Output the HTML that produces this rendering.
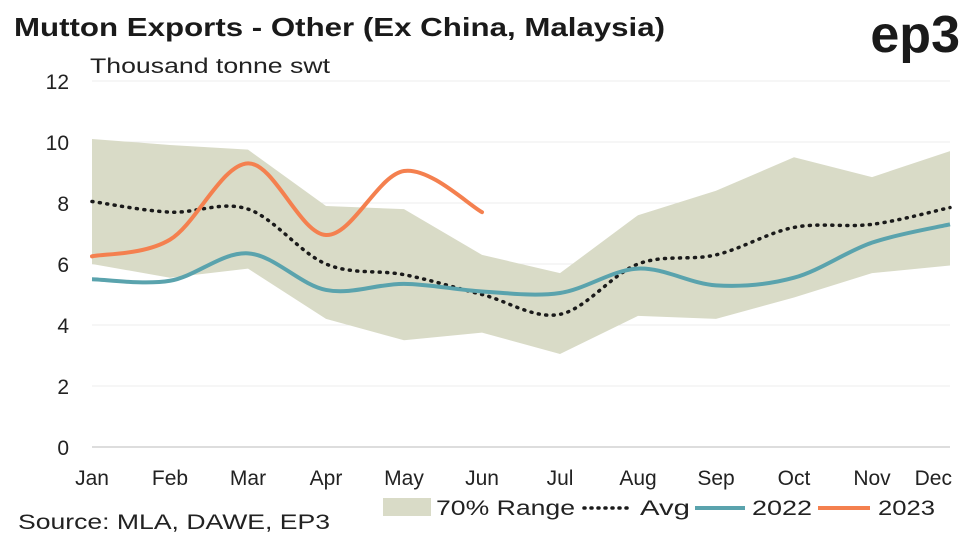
<!DOCTYPE html>
<html><head><meta charset="utf-8"><style>
body{margin:0;background:#fff;font-family:"Liberation Sans",sans-serif}
</style></head><body>
<svg width="962" height="541" id="c" xmlns="http://www.w3.org/2000/svg" font-family="Liberation Sans, sans-serif">
<text x="14" y="36" font-size="26" font-weight="bold" fill="#1a1a1a" textLength="651" lengthAdjust="spacingAndGlyphs">Mutton Exports - Other (Ex China, Malaysia)</text>
<text x="960" y="52" font-size="52" font-weight="bold" fill="#1a1a1a" text-anchor="end">ep3</text>
<text x="90" y="73" font-size="21" fill="#222" textLength="240" lengthAdjust="spacingAndGlyphs">Thousand tonne swt</text>
<text x="18" y="529" font-size="21" fill="#222" textLength="312" lengthAdjust="spacingAndGlyphs">Source: MLA, DAWE, EP3</text>
<g id="grid"></g><g id="plot"></g><g id="axes"></g>
<g>
<rect x="383" y="498" width="48" height="18" fill="#d9dbc7"/>
<text x="436" y="515" font-size="21" fill="#222" textLength="139" lengthAdjust="spacingAndGlyphs">70% Range</text>
<line x1="584" y1="508" x2="630" y2="508" stroke="#1a1a1a" stroke-width="3.5" stroke-dasharray="1 6" stroke-linecap="round"/>
<text x="640" y="515" font-size="21" fill="#222" textLength="50" lengthAdjust="spacingAndGlyphs">Avg</text>
<line x1="695" y1="508" x2="745" y2="508" stroke="#5aa3ad" stroke-width="4"/>
<text x="752" y="515" font-size="21" fill="#222" textLength="60" lengthAdjust="spacingAndGlyphs">2022</text>
<line x1="818" y1="508" x2="870" y2="508" stroke="#f4804f" stroke-width="4"/>
<text x="878" y="515" font-size="21" fill="#222" textLength="57" lengthAdjust="spacingAndGlyphs">2023</text>
</g>
</svg>
<script>
const months=["Jan","Feb","Mar","Apr","May","Jun","Jul","Aug","Sep","Oct","Nov","Dec"];
const yTicks=[0,2,4,6,8,10,12];
const rangeHigh=[10.1,9.9,9.75,7.9,7.8,6.3,5.7,7.6,8.4,9.5,8.85,9.7];
const rangeLow=[6.0,5.55,5.85,4.2,3.5,3.75,3.05,4.3,4.2,4.9,5.7,5.95];
const avg=[8.05,7.7,7.8,6.0,5.65,5.0,4.35,6.0,6.3,7.2,7.3,7.85];
const s2022=[5.5,5.45,6.35,5.15,5.35,5.1,5.05,5.85,5.3,5.55,6.7,7.3];
const s2023=[6.25,6.8,9.3,6.95,9.05,7.7];
const NS="http://www.w3.org/2000/svg";
const X0=92,X1=950,Y0=447,Y1=81;
const x=i=>X0+i*(X1-X0)/(months.length-1);
const y=v=>Y0-(v/12)*(Y0-Y1);
function mk(t,a,p){const e=document.createElementNS(NS,t);for(const k in a)e.setAttribute(k,a[k]);p.appendChild(e);return e;}
const grid=document.getElementById('grid'),plot=document.getElementById('plot'),axes=document.getElementById('axes');
yTicks.forEach(v=>{
 const l=mk('line',{x1:X0,x2:X1,y1:y(v),y2:y(v),stroke:v===0?'#bbb':'#ececec','stroke-width':1},grid);
 
 
 const t=mk('text',{x:69,y:y(v)+8,'font-size':21,fill:'#222','text-anchor':'end'},axes);
 t.textContent=v;
 
 
});
months.forEach((m,i)=>{
 const last=i===months.length-1;
 const t=mk('text',{x:last?952:x(i),y:485,'font-size':21,fill:'#222','text-anchor':last?'end':'middle'},axes);
 t.textContent=m;
 
 
});
let pts=rangeHigh.map((v,i)=>x(i)+','+y(v)).concat(rangeLow.map((v,i)=>x(i)+','+y(v)).reverse());
const poly=mk('polygon',{points:pts.join(' '),fill:'#d9dbc7'},plot);


function smooth(arr){
 const p=arr.map((v,i)=>[x(i),y(v)]);let d='M'+p[0][0]+','+p[0][1];
 for(let i=0;i<p.length-1;i++){const a=p[i-1]||p[i],b=p[i],c=p[i+1],e=p[i+2]||c;
  d+=` C${b[0]+(c[0]-a[0])/6},${b[1]+(c[1]-a[1])/6} ${c[0]-(e[0]-b[0])/6},${c[1]-(e[1]-b[1])/6} ${c[0]},${c[1]}`;}
 return d;}
const pa=mk('path',{d:smooth(avg),fill:'none',stroke:'#1a1a1a','stroke-width':3.5,'stroke-dasharray':'1 6.5','stroke-linecap':'round'},plot);


const p22=mk('path',{d:smooth(s2022),fill:'none',stroke:'#5aa3ad','stroke-width':4},plot);


const p23=mk('path',{d:smooth(s2023),fill:'none',stroke:'#f4804f','stroke-width':4,'stroke-linecap':'round'},plot);


</script>
</body></html>
